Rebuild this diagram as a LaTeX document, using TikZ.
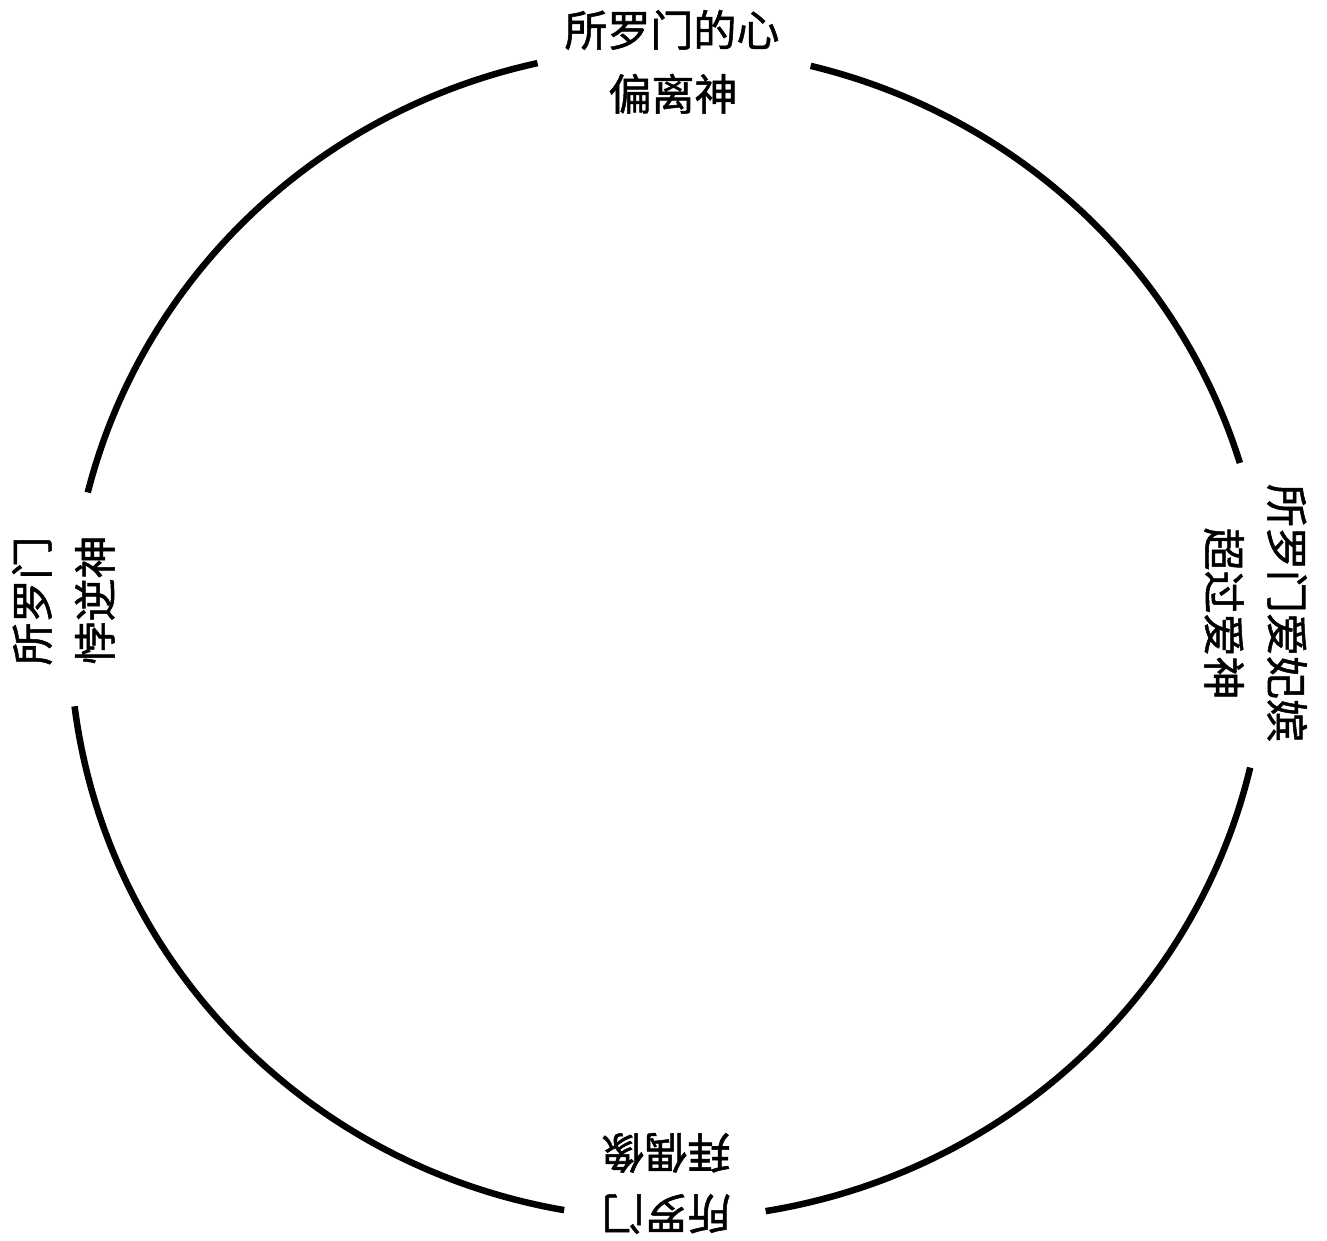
\documentclass[tikz,border=0pt]{standalone}
\usepackage{fontspec}
\newfontfamily\cjk[FakeBold=1.2]{Noto Sans CJK SC}
\usetikzlibrary{calc}
\begin{document}
\begin{tikzpicture}[x=1pt,y=1pt,
  ring/.style={line width=6.5pt,line cap=butt,black},
  lbl/.style={font=\cjk\fontsize{43}{50}\selectfont,inner sep=0pt,anchor=base}]
\useasboundingbox (0,0) rectangle (1327,1240);
\coordinate (c) at (668,606);
\draw[ring] ($(c)+(17:598pt and 585pt)$) arc[start angle=17,end angle=76.2,x radius=598pt,y radius=585pt];
\draw[ring] ($(c)+(102.6:598pt and 585pt)$) arc[start angle=102.6,end angle=166,x radius=598pt,y radius=585pt];
\draw[ring] ($(c)+(187.1:598pt and 585pt)$) arc[start angle=187.1,end angle=260,x radius=598pt,y radius=585pt];
\draw[ring] ($(c)+(279.4:598pt and 585pt)$) arc[start angle=279.4,end angle=346.8,x radius=598pt,y radius=585pt];
% top
\node[lbl] (t1) at (672,1193.7) {所罗门的心};
\node[lbl] (t2) at (673,1129.7) {偏离神};
% right
\node[lbl,rotate=-90] (r1) at (1270.7,627) {所罗门爱妃嫔};
\node[lbl,rotate=-90] (r2) at (1207.7,626.5) {超过爱神};
% left
\node[lbl,rotate=90] (l1) at (48.3,639) {所罗门};
\node[lbl,rotate=90] (l2) at (111.3,640) {悖逆神};
% bottom
\node[lbl,rotate=180] (b1) at (666,42.3) {所罗门};
\node[lbl,rotate=180] (b2) at (666,103.3) {拜偶像};
\end{tikzpicture}
\end{document}
